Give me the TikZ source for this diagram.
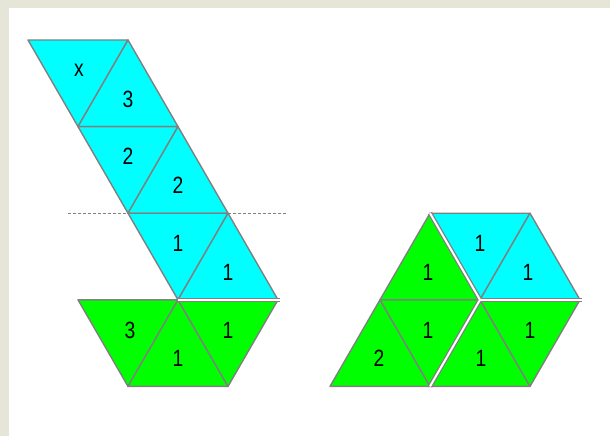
\documentclass[tikz,border=0pt]{standalone}
\usepackage{fontspec}
\setmainfont{Liberation Sans}
\newfontfamily\digitfont[FakeStretch=0.82]{Liberation Sans}
\definecolor{bgtex}{HTML}{E6E6D8}
\definecolor{edge}{HTML}{808080}
\definecolor{cyanfill}{HTML}{00FFFF}
\definecolor{greenfill}{HTML}{00FF00}
\tikzset{
  cyantri/.style={fill=cyanfill, draw=edge, line width=1.4pt, line join=round},
  greentri/.style={fill=greenfill, draw=edge, line width=1.4pt, line join=round},
  lbl/.style={font=\digitfont\fontsize{23.5}{23.5}\selectfont, inner sep=0pt},
  seamouter/.style={draw=edge, line width=4.6pt},
  seaminner/.style={draw=white, line width=2pt},
  cutline/.style={draw=edge, line width=1pt, dash pattern=on 3pt off 2pt}
}
\begin{document}
\begin{tikzpicture}[x=1pt,y=-1pt]
\useasboundingbox (0,0) rectangle (610,436);
\fill[bgtex] (0,0) rectangle (610,436);
\fill[white] (9,8) rectangle (610,436);

% rows: 40, 126.6, 213.2, 299.8, 386.4
% dashed cut line
\coordinate (cutL) at (68,213.2);
\coordinate (cutR) at (287,213.2);
\draw[cutline] (cutL) -- (cutR);

% left figure, cyan strip
\filldraw[cyantri] (28,40) -- (128,40) -- (78,126.6) -- cycle;
\node[lbl] (lx) at (79,70.5) {x};
\filldraw[cyantri] (128,40) -- (78,126.6) -- (178,126.6) -- cycle;
\node[lbl] (l3) at (128,99) {3};
\filldraw[cyantri] (78,126.6) -- (178,126.6) -- (128,213.2) -- cycle;
\node[lbl] (l2a) at (128,156.5) {2};
\filldraw[cyantri] (178,126.6) -- (128,213.2) -- (228,213.2) -- cycle;
\node[lbl] (l2b) at (178,185) {2};
\filldraw[cyantri] (128,213.2) -- (228,213.2) -- (178,299.8) -- cycle;
\node[lbl] (l1a) at (178,243) {1};
\filldraw[cyantri] (228,213.2) -- (178,299.8) -- (278,299.8) -- cycle;
\node[lbl] (l1b) at (228,272) {1};

% left figure, green row
\filldraw[greentri] (78,299.8) -- (178,299.8) -- (128,386.4) -- cycle;
\node[lbl] (lg3) at (130,330) {3};
\filldraw[greentri] (178,299.8) -- (128,386.4) -- (228,386.4) -- cycle;
\node[lbl] (lg1a) at (178,358.5) {1};
\filldraw[greentri] (178,299.8) -- (278,299.8) -- (228,386.4) -- cycle;
\node[lbl] (lg1b) at (228,330) {1};

% seam between strip and green row
\coordinate (s1a) at (178,299.8);
\coordinate (s1b) at (280,299.8);
\draw[seamouter] (s1a) -- (s1b);
\draw[seaminner] (s1a) -- (s1b);

% right figure
\filldraw[greentri] (430,213.2) -- (380,299.8) -- (480,299.8) -- cycle;
\node[lbl] (ra1) at (428,272) {1};
\filldraw[cyantri] (430,213.2) -- (530,213.2) -- (480,299.8) -- cycle;
\node[lbl] (rc1) at (480,243) {1};
\filldraw[cyantri] (530,213.2) -- (480,299.8) -- (580,299.8) -- cycle;
\node[lbl] (rc2) at (528,272) {1};
\filldraw[greentri] (380,299.8) -- (330,386.4) -- (430,386.4) -- cycle;
\node[lbl] (ra2) at (379,358.5) {2};
\filldraw[greentri] (380,299.8) -- (480,299.8) -- (430,386.4) -- cycle;
\node[lbl] (ra3) at (428,330) {1};
\filldraw[greentri] (480,299.8) -- (430,386.4) -- (530,386.4) -- cycle;
\node[lbl] (rb1) at (481,358.5) {1};
\filldraw[greentri] (480,299.8) -- (580,299.8) -- (530,386.4) -- cycle;
\node[lbl] (rb2) at (530,330) {1};

% seams of the right figure
\coordinate (rtop) at (430,213.2);
\coordinate (rmid) at (480,299.8);
\coordinate (rright) at (582,299.8);
\coordinate (rbot) at (430,386.4);
\draw[seamouter] (rtop) -- (rmid) -- (rbot);
\draw[seamouter] (rmid) -- (rright);
\draw[seaminner] (rtop) -- (rmid) -- (rbot);
\draw[seaminner] (rmid) -- (rright);
\end{tikzpicture}
\end{document}
